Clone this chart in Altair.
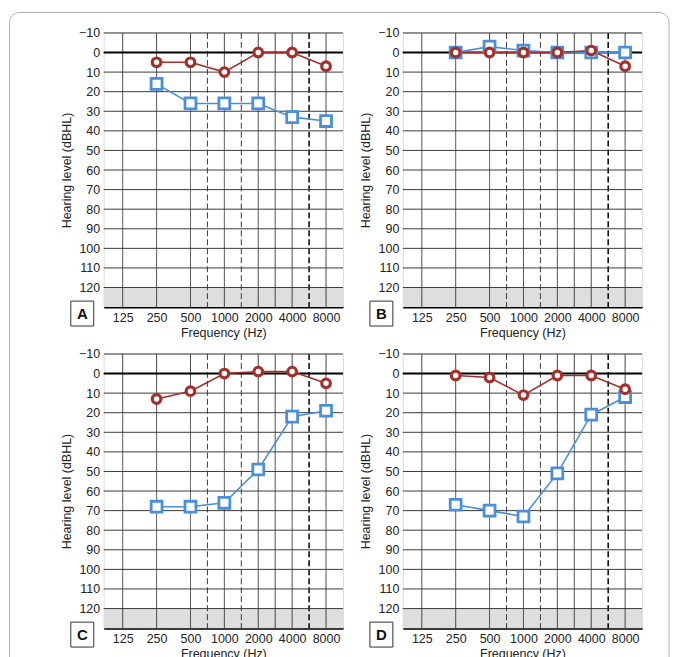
import math
import altair as alt
import pandas as pd

# ---- data ----
panels = ["A", "B", "C", "D"]
freqs = [250, 500, 1000, 2000, 4000, 8000]
red_levels = {
    "A": [5, 5, 10, 0, 0, 7],
    "B": [0, 0, 0, 0, -1, 7],
    "C": [13, 9, 0, -1, -1, 5],
    "D": [1, 2, 11, 1, 1, 8],
}
blue_levels = {
    "A": [16, 26, 26, 26, 33, 35],
    "B": [0, -3, -1, 0, 0, 0],
    "C": [68, 68, 66, 49, 22, 19],
    "D": [67, 70, 73, 51, 21, 12],
}
octave_freqs = [125, 250, 500, 1000, 2000, 4000, 8000]
dashed_freqs = [750, 1500]
thin_solid_freqs = [3000]
bold_dashed_freqs = [6000]
level_lines = list(range(-10, 130, 10))
level_ticks = list(range(-10, 130, 10))
band_low, band_high = 120, 130

RED = "#a3302b"
BLUE = "#4a8fd8"
GRID = "#3a3a3a"
FONT = "Liberation Sans"

PW, PH = 240, 275


def pos(f):
    r = math.log2(f / 125)
    if abs(r - round(r)) < 1e-9:
        return float(round(r))
    return math.floor(r) + 0.5


xscale = alt.Scale(domain=[-0.56, 6.5], nice=False, zero=False)
yscale = alt.Scale(domain=[-10, 130], reverse=True, nice=False, zero=False)

x_axis = alt.Axis(
    values=list(range(0, 7)), ticks=False, grid=False,
    domain=True, domainColor="#000", domainWidth=2,
    labelExpr="format(125*pow(2, datum.value), 'd')",
    labelFontSize=12.5, labelFont=FONT, labelColor="#222", labelPadding=4,
    title="Frequency (Hz)", titleFont=FONT, titleFontSize=12.5,
    titleFontWeight="normal", titleColor="#222", titlePadding=3,
)
y_axis = alt.Axis(
    values=level_ticks, ticks=False, grid=False, domain=False,
    labelFontSize=12.5, labelFont=FONT, labelColor="#222", labelPadding=4,
    title="Hearing level (dBHL)", titleFont=FONT, titleFontSize=12.5,
    titleFontWeight="normal", titleColor="#222", titlePadding=5,
)


def X(field):
    return alt.X(field, scale=xscale, axis=x_axis, title="Frequency (Hz)")


def Y(field):
    return alt.Y(field, scale=yscale, axis=y_axis, title="Hearing level (dBHL)")


def panel(letter, show_frame=False):
    rows = []
    for ear, levels in (("right", red_levels[letter]), ("left", blue_levels[letter])):
        for f, v in zip(freqs, levels):
            rows.append({"ear": ear, "pos": pos(f), "level": v})
    df = pd.DataFrame(rows)

    band = alt.Chart(pd.DataFrame({"level": [band_low], "hi": [band_high]})).mark_rect(
        color="#dedede"
    ).encode(x=alt.value(0), x2=alt.value(PW), y=Y("level:Q"), y2="hi:Q")

    def vrules(fs, dash, width, color):
        return alt.Chart(pd.DataFrame({"pos": [pos(f) for f in fs]})).mark_rule(
            color=color, strokeWidth=width, strokeDash=dash
        ).encode(x=X("pos:Q"))

    v_solid = vrules(octave_freqs, [1, 0], 1, GRID)
    v_dash = vrules(dashed_freqs, [6, 3], 1, GRID)
    v_thin = vrules(thin_solid_freqs, [1, 0], 1, GRID)
    v_bold = vrules(bold_dashed_freqs, [6, 3], 1.6, "#111")

    h_rules = alt.Chart(pd.DataFrame({"level": level_lines})).mark_rule(
        color=GRID, strokeWidth=1
    ).encode(y=Y("level:Q"))
    zero_rule = alt.Chart(pd.DataFrame({"level": [0]})).mark_rule(
        color="#000", strokeWidth=2
    ).encode(y=Y("level:Q"))

    base = alt.Chart(df)
    blue_line = base.transform_filter("datum.ear == 'left'").mark_line(
        color=BLUE, strokeWidth=1.6
    ).encode(x=X("pos:Q"), y=Y("level:Q"))
    red_line = base.transform_filter("datum.ear == 'right'").mark_line(
        color=RED, strokeWidth=1.6
    ).encode(x=X("pos:Q"), y=Y("level:Q"))
    blue_pts = base.transform_filter("datum.ear == 'left'").mark_point(
        shape="square", size=120, stroke=BLUE, strokeWidth=2.8, fill="white",
        fillOpacity=1, opacity=1,
    ).encode(x=X("pos:Q"), y=Y("level:Q"))
    red_pts = base.transform_filter("datum.ear == 'right'").mark_point(
        shape="circle", size=75, stroke=RED, strokeWidth=3.2, fill="white",
        fillOpacity=1, opacity=1,
    ).encode(x=X("pos:Q"), y=Y("level:Q"))

    one = pd.DataFrame({"letter": [letter]})
    box = alt.Chart(one).mark_rect(fill="white", stroke="#333", strokeWidth=1).encode(
        x=alt.value(-33), x2=alt.value(-10), y=alt.value(269), y2=alt.value(294)
    )
    txt = alt.Chart(one).mark_text(
        fontSize=15, fontWeight="bold", font=FONT, color="#111",
        align="center", baseline="middle",
    ).encode(x=alt.value(-21.5), y=alt.value(282), text="letter:N")

    layers = [band, v_solid, v_dash, v_thin, v_bold, h_rules, zero_rule,
              blue_line, red_line, blue_pts, red_pts, box, txt]
    if show_frame:
        frame = alt.Chart(one).mark_rect(
            fill="white", fillOpacity=0, stroke="#b0b0b0", strokeWidth=1,
            cornerRadius=10,
        ).encode(x=alt.value(-94.5), x2=alt.value(567), y=alt.value(-20.5),
                 y2=alt.value(640))
        layers.append(frame)
    return alt.layer(*layers).properties(width=PW, height=PH)


chart = alt.concat(
    panel("A", show_frame=True), panel("B"), panel("C"), panel("D"),
    columns=2, spacing={"row": 47, "column": 60}, bounds="flush",
).properties(
    padding={"left": 0, "top": 2, "right": 0, "bottom": 0}
).configure_view(stroke="#555", strokeWidth=1).configure(background="white")

chart.save("out.html", embed_options={"renderer": "svg", "actions": False})
